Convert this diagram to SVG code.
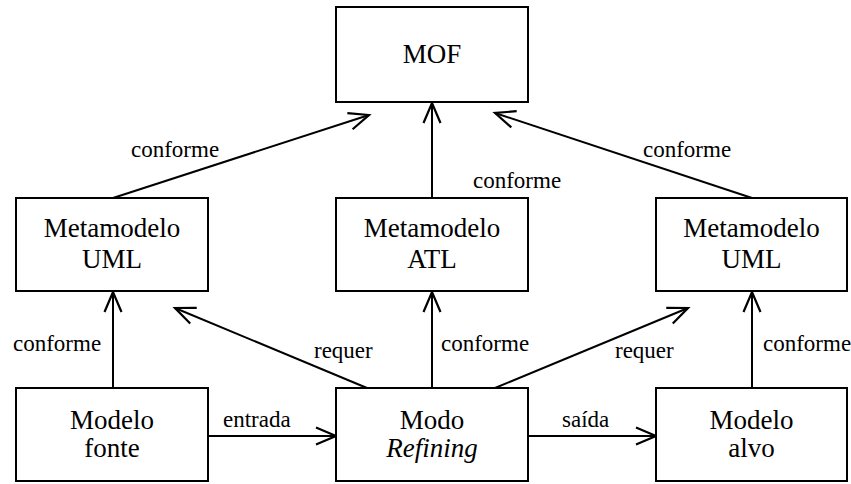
<svg xmlns="http://www.w3.org/2000/svg" width="851" height="484" viewBox="0 0 851 484">
  <style>
    .box { fill: #fff; stroke: #000; stroke-width: 2; }
    .t { font-size: 27px; fill: #000; text-anchor: middle; }
    .it { font-style: italic; }
    .lbl { font-size: 23px; fill: #000; }
    .edge { fill: none; stroke: #000; stroke-width: 2; marker-end: url(#open); }
  </style>
  <defs>
    <marker id="open" markerUnits="userSpaceOnUse" markerWidth="30" markerHeight="30" viewBox="-25 -15 30 30" refX="0" refY="0" orient="auto" overflow="visible">
      <path d="M-20,-8.5 L0,0 L-20,8.5" fill="none" stroke="#000" stroke-width="2.2"/>
    </marker>
  </defs>

  <g font-family="Liberation Serif, Times New Roman, DejaVu Serif, Noto Serif, serif">
  <g id="connectors">
    <line class="edge" x1="113" y1="198" x2="369" y2="115"/>
    <line class="edge" x1="432" y1="198" x2="432" y2="103"/>
    <line class="edge" x1="752" y1="198" x2="495" y2="113"/>
    <line class="edge" x1="113" y1="388" x2="113" y2="292"/>
    <line class="edge" x1="432" y1="388" x2="432" y2="292"/>
    <line class="edge" x1="752" y1="388" x2="752" y2="292"/>
    <line class="edge" x1="367" y1="388" x2="175" y2="308"/>
    <line class="edge" x1="495" y1="388" x2="688" y2="308"/>
    <line class="edge" x1="208" y1="436" x2="336" y2="436"/>
    <line class="edge" x1="528" y1="436" x2="656" y2="436"/>

    <text class="lbl" x="131" y="157">conforme</text>
    <text class="lbl" x="473" y="188">conforme</text>
    <text class="lbl" x="643" y="157">conforme</text>
    <text class="lbl" x="13" y="351">conforme</text>
    <text class="lbl" x="441" y="351">conforme</text>
    <text class="lbl" x="763" y="351">conforme</text>
    <text class="lbl" x="314" y="358">requer</text>
    <text class="lbl" x="615" y="358">requer</text>
    <text class="lbl" x="223" y="427">entrada</text>
    <text class="lbl" x="562" y="427">saída</text>
  </g>

  <g id="mof">
    <rect class="box" x="336" y="7" width="192" height="95"/>
    <text class="t" x="432" y="63">MOF</text>
  </g>

  <g id="metamodelo-uml-fonte">
    <rect class="box" x="16" y="198" width="192" height="93"/>
    <text class="t" x="112" y="237">Metamodelo</text>
    <text class="t" x="112" y="268">UML</text>
  </g>

  <g id="metamodelo-atl">
    <rect class="box" x="336" y="198" width="192" height="93"/>
    <text class="t" x="432" y="237">Metamodelo</text>
    <text class="t" x="432" y="268">ATL</text>
  </g>

  <g id="metamodelo-uml-alvo">
    <rect class="box" x="656" y="198" width="191" height="93"/>
    <text class="t" x="751.5" y="237">Metamodelo</text>
    <text class="t" x="751.5" y="268">UML</text>
  </g>

  <g id="modelo-fonte">
    <rect class="box" x="16" y="388" width="192" height="93"/>
    <text class="t" x="112" y="429">Modelo</text>
    <text class="t" x="112" y="457">fonte</text>
  </g>

  <g id="modo-refining">
    <rect class="box" x="336" y="388" width="192" height="93"/>
    <text class="t" x="432" y="429">Modo</text>
    <text class="t it" x="432" y="457">Refining</text>
  </g>

  <g id="modelo-alvo">
    <rect class="box" x="656" y="388" width="191" height="93"/>
    <text class="t" x="751.5" y="429">Modelo</text>
    <text class="t" x="751.5" y="457">alvo</text>
  </g>
  </g>
</svg>
